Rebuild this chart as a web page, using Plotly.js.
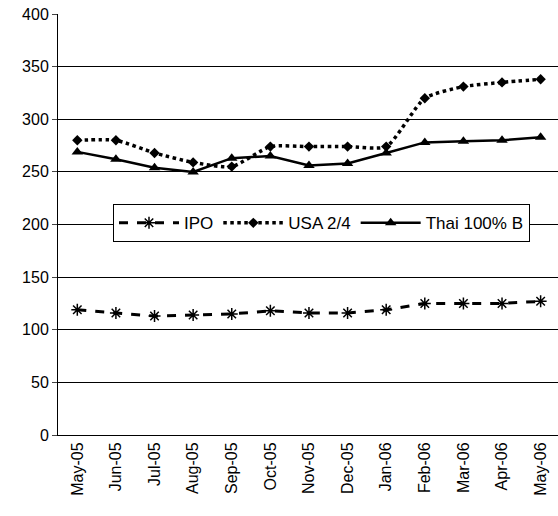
<!DOCTYPE html><html><head><script src="https://cdn.plot.ly/plotly-3.0.1.min.js"></script></head><body style="margin:0"><div id="c" style="width:558px;height:516px"></div><script>
const months=["May-05","Jun-05","Jul-05","Aug-05","Sep-05","Oct-05","Nov-05","Dec-05","Jan-06","Feb-06","Mar-06","Apr-06","May-06"];
const ipo=[119,116,113,114,115,118,116,116,119,125,125,125,127];
const usa=[280,280,268,259,255,274,274,274,274,320,331,335,338];
const thai=[269,262,254,250,263,265,256,258,268,278,279,280,283];
const x=months.map((m,i)=>i);
const traces=[
{x,y:ipo,name:"IPO",mode:"lines+markers",line:{color:"black",width:3,dash:"dash"},marker:{symbol:"asterisk-open",size:10,color:"black",line:{width:1.5,color:"black"}}},
{x,y:usa,name:"USA 2/4",mode:"lines+markers",line:{color:"black",width:3.5,dash:"dot",shape:"spline",smoothing:0.6},marker:{symbol:"diamond",size:8,color:"black"}},
{x,y:thai,name:"Thai 100% B",mode:"lines+markers",line:{color:"black",width:2.5},marker:{symbol:"triangle-up",size:10,color:"black"}}];
Plotly.newPlot("c",traces,{width:558,height:516,margin:{l:58,r:0,t:14,b:81},paper_bgcolor:"white",plot_bgcolor:"white",
font:{family:"Liberation Sans, Arial",size:16,color:"black"},
xaxis:{range:[-0.5,12.45],tickvals:x,ticktext:months,tickangle:-90,showgrid:false,ticks:"",showline:true,linecolor:"black",zeroline:false,tickfont:{size:16}},
yaxis:{range:[0,400],dtick:50,showgrid:true,gridcolor:"black",gridwidth:1,ticks:"outside",ticklen:5,showline:true,linecolor:"black",zeroline:false,tickfont:{size:16}},
showlegend:true,legend:{orientation:"h",x:0.11,y:0.548,xanchor:"left",yanchor:"top",bordercolor:"black",borderwidth:1,bgcolor:"white",font:{size:17},itemwidth:60,tracegroupgap:0}},{displayModeBar:false});
</script></body></html>
